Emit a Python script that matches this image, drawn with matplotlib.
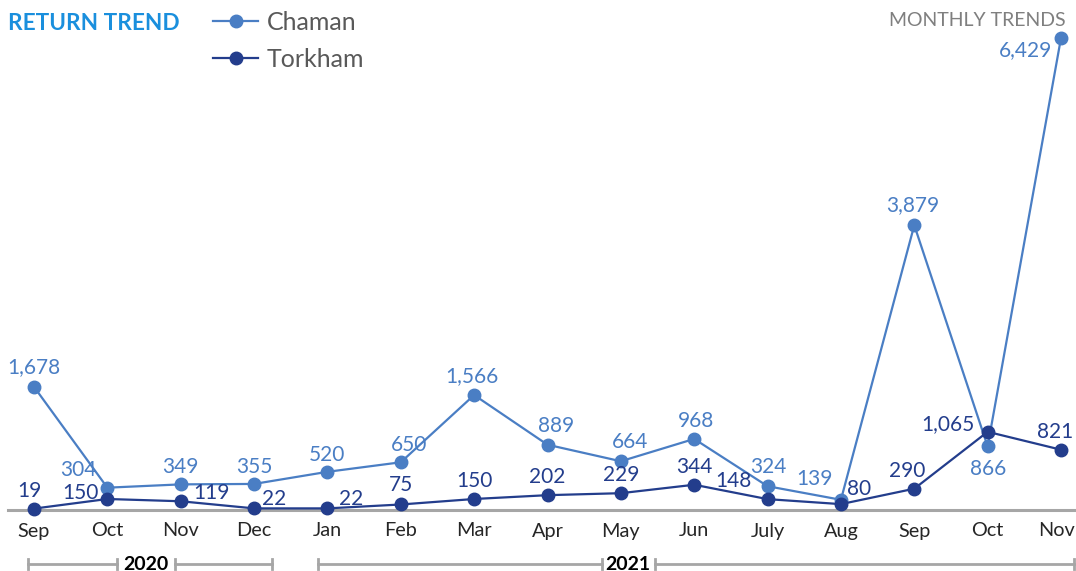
import matplotlib
matplotlib.use("Agg")
import matplotlib.pyplot as plt
from matplotlib.transforms import blended_transform_factory

plt.rcParams['font.family'] = ['Lato', 'DejaVu Sans']

months = ["Sep", "Oct", "Nov", "Dec", "Jan", "Feb", "Mar", "Apr", "May", "Jun",
          "July", "Aug", "Sep", "Oct", "Nov"]
chaman = [1678, 304, 349, 355, 520, 650, 1566, 889, 664, 968, 324, 139, 3879, 866, 6429]
torkham = [19, 150, 119, 22, 22, 75, 150, 202, 229, 344, 148, 80, 290, 1065, 821]
years = ["2020", "2021"]

C_CHAMAN = "#4A7EC4"
C_TORKHAM = "#233D8C"

# label offsets in pixels (dx, dy) with dy positive = up
chaman_off = [(0, 20), (-29, 18), (0, 17), (0, 17), (0, 17), (8, 17), (-2, 19), (9, 19),
              (9, 19), (2, 18), (1, 19), (-26, 21), (-2, 20), (0, -23), (-36, -12)]
torkham_off = [(-5, 18), (-27, 6), (31, 8), (20, 9), (24, 9), (0, 19), (0, 18), (0, 18),
               (0, 18), (0, 18), (-34, 18), (18, 15), (-7, 18), (-40, 8), (-6, 18)]

W, H = 1076, 571
fig = plt.figure(figsize=(W / 100, H / 100), dpi=100)
ax = fig.add_axes([0, 0, 1, 1])
ax.set_axis_off()

# map: index 0 -> x=34px, index 14 -> x=1061px ; value 0 -> y=510px from top, 6429 -> 38px
xs = (1061 - 34) / 14.0
ys = (510 - 38) / 6429.0
ax.set_xlim(-34 / xs, 14 + (W - 1061) / xs)
ax.set_ylim(-(H - 510) / ys, 6429 + 38 / ys)

x = list(range(len(months)))

# baseline axis
ax.axhline(0, xmin=8 / W, xmax=1.0, color="#A6A6A6", lw=2.2, zorder=1)

ln1, = ax.plot(x, chaman, color=C_CHAMAN, lw=1.6, marker="o", ms=9, zorder=3, label="Chaman")
ln2, = ax.plot(x, torkham, color=C_TORKHAM, lw=1.6, marker="o", ms=9, zorder=4, label="Torkham")

for i, v in enumerate(chaman):
    ax.annotate(f"{v:,}", (i, v), xytext=chaman_off[i], textcoords="offset pixels",
                ha="center", va="center", fontsize=15, color=C_CHAMAN, zorder=5)
for i, v in enumerate(torkham):
    ax.annotate(f"{v:,}", (i, v), xytext=torkham_off[i], textcoords="offset pixels",
                ha="center", va="center", fontsize=15, color=C_TORKHAM, zorder=5)

# month labels
trans = blended_transform_factory(ax.transData, fig.transFigure)
for i, m in enumerate(months):
    dx = -4 if i == len(months) - 1 else 0
    ax.annotate(m, (i, 1 - 531 / H), xycoords=trans, xytext=(dx, 0),
                textcoords="offset pixels", ha="center", va="center",
                fontsize=14.3, color="#262626")

# year brackets (in figure pixel coords)
def px(xp, yp):
    return xp / W, 1 - yp / H

yb = 564
brackets = [(28, 117, 175, 272, 146), (318, 602, 655, 1074, 628)]
for (a, b, c, d, tx), yr in zip(brackets, years):
    for s, e in [(a, b), (c, d)]:
        x0, y0 = px(s, yb)
        x1, _ = px(e, yb)
        fig.add_artist(plt.Line2D([x0, x1], [y0, y0], color="#A6A6A6", lw=2.0,
                                  transform=fig.transFigure))
        for t in (s, e):
            tx0, ty0 = px(t, yb - 5)
            _, ty1 = px(t, yb + 5)
            fig.add_artist(plt.Line2D([tx0, tx0], [ty0, ty1], color="#A6A6A6", lw=2.0,
                                      transform=fig.transFigure))
    fx, fy = px(tx, yb)
    fig.text(fx, fy, yr, ha="center", va="center", fontsize=14, fontweight="bold",
             color="black")

# title and subtitle
fig.text(8 / W, 1 - 23 / H, "RETURN TREND", ha="left", va="center", fontsize=16.3,
         fontweight="bold", color="#1A8FDD")
fig.text(1066 / W, 1 - 21 / H, "MONTHLY TRENDS", ha="right", va="center", fontsize=14,
         color="#7F7F7F")

leg = ax.legend(handles=[ln1, ln2], loc="upper left", bbox_to_anchor=(213 / W, 1 - 11 / H),
                bbox_transform=fig.transFigure, frameon=False, fontsize=18,
                labelcolor="#595959", handlelength=1.8, handletextpad=0.36,
                labelspacing=0.55, borderpad=0, borderaxespad=0)

fig.savefig("out.png", dpi=100)
